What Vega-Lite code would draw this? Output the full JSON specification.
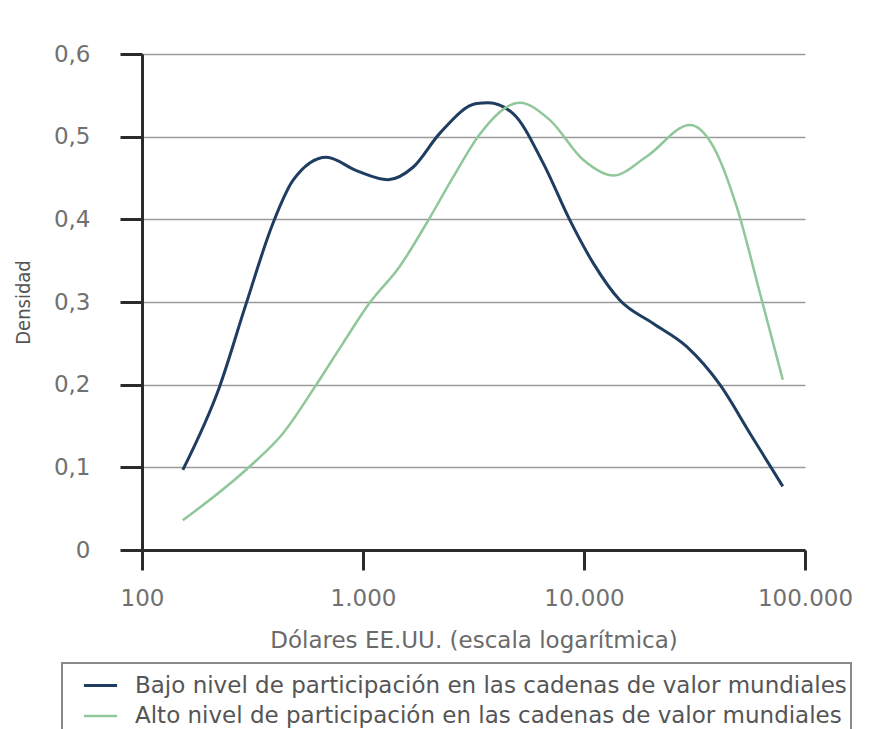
{
  "$schema": "https://vega.github.io/schema/vega-lite/v6.json",
  "autosize": "none",
  "width": 663,
  "height": 496,
  "padding": {"left": 142, "top": 54, "right": 72, "bottom": 179},
  "background": "white",
  "config": {
    "locale": {"number": {"decimal": ",", "thousands": ".", "grouping": [3], "currency": ["", " €"]}},
    "view": {"stroke": null},
    "font": "DejaVu Sans"
  },
  "data": {
    "values": [
      {"serie": "Bajo nivel de participación en las cadenas de valor mundiales", "x": 153, "y": 0.097},
      {"serie": "Bajo nivel de participación en las cadenas de valor mundiales", "x": 224, "y": 0.197},
      {"serie": "Bajo nivel de participación en las cadenas de valor mundiales", "x": 296, "y": 0.298},
      {"serie": "Bajo nivel de participación en las cadenas de valor mundiales", "x": 391, "y": 0.395},
      {"serie": "Bajo nivel de participación en las cadenas de valor mundiales", "x": 482, "y": 0.447},
      {"serie": "Bajo nivel de participación en las cadenas de valor mundiales", "x": 683, "y": 0.475},
      {"serie": "Bajo nivel de participación en las cadenas de valor mundiales", "x": 933, "y": 0.459},
      {"serie": "Bajo nivel de participación en las cadenas de valor mundiales", "x": 1298, "y": 0.448},
      {"serie": "Bajo nivel de participación en las cadenas de valor mundiales", "x": 1684, "y": 0.463},
      {"serie": "Bajo nivel de participación en las cadenas de valor mundiales", "x": 2225, "y": 0.504},
      {"serie": "Bajo nivel de participación en las cadenas de valor mundiales", "x": 3263, "y": 0.540},
      {"serie": "Bajo nivel de participación en las cadenas de valor mundiales", "x": 3683, "y": 0.541},
      {"serie": "Bajo nivel de participación en las cadenas de valor mundiales", "x": 4778, "y": 0.528},
      {"serie": "Bajo nivel de participación en las cadenas de valor mundiales", "x": 6535, "y": 0.468},
      {"serie": "Bajo nivel de participación en las cadenas de valor mundiales", "x": 8630, "y": 0.399},
      {"serie": "Bajo nivel de participación en las cadenas de valor mundiales", "x": 11010, "y": 0.347},
      {"serie": "Bajo nivel de participación en las cadenas de valor mundiales", "x": 14540, "y": 0.302},
      {"serie": "Bajo nivel de participación en las cadenas de valor mundiales", "x": 20570, "y": 0.274},
      {"serie": "Bajo nivel de participación en las cadenas de valor mundiales", "x": 29170, "y": 0.246},
      {"serie": "Bajo nivel de participación en las cadenas de valor mundiales", "x": 41220, "y": 0.200},
      {"serie": "Bajo nivel de participación en las cadenas de valor mundiales", "x": 56390, "y": 0.141},
      {"serie": "Bajo nivel de participación en las cadenas de valor mundiales", "x": 79330, "y": 0.077},
      {"serie": "Alto nivel de participación en las cadenas de valor mundiales", "x": 153, "y": 0.036},
      {"serie": "Alto nivel de participación en las cadenas de valor mundiales", "x": 307, "y": 0.101},
      {"serie": "Alto nivel de participación en las cadenas de valor mundiales", "x": 434, "y": 0.141},
      {"serie": "Alto nivel de participación en las cadenas de valor mundiales", "x": 615, "y": 0.200},
      {"serie": "Alto nivel de participación en las cadenas de valor mundiales", "x": 811, "y": 0.250},
      {"serie": "Alto nivel de participación en las cadenas de valor mundiales", "x": 1072, "y": 0.299},
      {"serie": "Alto nivel de participación en las cadenas de valor mundiales", "x": 1466, "y": 0.343},
      {"serie": "Alto nivel de participación en las cadenas de valor mundiales", "x": 1937, "y": 0.395},
      {"serie": "Alto nivel de participación en las cadenas de valor mundiales", "x": 2557, "y": 0.451},
      {"serie": "Alto nivel de participación en las cadenas de valor mundiales", "x": 3377, "y": 0.503},
      {"serie": "Alto nivel de participación en las cadenas de valor mundiales", "x": 5126, "y": 0.541},
      {"serie": "Alto nivel de participación en las cadenas de valor mundiales", "x": 7014, "y": 0.520},
      {"serie": "Alto nivel de participación en las cadenas de valor mundiales", "x": 9912, "y": 0.472},
      {"serie": "Alto nivel de participación en las cadenas de valor mundiales", "x": 13560, "y": 0.453},
      {"serie": "Alto nivel de participación en las cadenas de valor mundiales", "x": 19220, "y": 0.476},
      {"serie": "Alto nivel de participación en las cadenas de valor mundiales", "x": 30180, "y": 0.514},
      {"serie": "Alto nivel de participación en las cadenas de valor mundiales", "x": 38460, "y": 0.488},
      {"serie": "Alto nivel de participación en las cadenas de valor mundiales", "x": 49110, "y": 0.415},
      {"serie": "Alto nivel de participación en las cadenas de valor mundiales", "x": 62640, "y": 0.310},
      {"serie": "Alto nivel de participación en las cadenas de valor mundiales", "x": 79330, "y": 0.206}
    ]
  },
  "mark": {"type": "line", "interpolate": "monotone", "clip": false},
  "encoding": {
    "x": {
      "field": "x",
      "type": "quantitative",
      "scale": {"type": "log", "domain": [100, 100000], "nice": false},
      "axis": {
        "values": [100, 1000, 10000, 100000],
        "format": ",d",
        "title": "Dólares EE.UU. (escala logarítmica)",
        "grid": false,
        "labelFlush": false,
        "labelOverlap": false,
        "domainColor": "#2b2b2b",
        "domainWidth": 3,
        "tickColor": "#2b2b2b",
        "tickWidth": 3,
        "tickSize": 20,
        "labelFont": "DejaVu Sans",
        "labelFontSize": 23,
        "labelColor": "#707070",
        "labelPadding": 17,
        "titleFont": "DejaVu Sans",
        "titleFontSize": 23,
        "titleFontWeight": "normal",
        "titleColor": "#6a6a6a",
        "titlePadding": 19
      }
    },
    "y": {
      "field": "y",
      "type": "quantitative",
      "scale": {"domain": [0, 0.6], "nice": false},
      "axis": {
        "values": [0, 0.1, 0.2, 0.3, 0.4, 0.5, 0.6],
        "format": ".1~f",
        "title": "Densidad",
        "grid": true,
        "labelFlush": false,
        "gridColor": "#9a9a9a",
        "gridWidth": 1.5,
        "domainColor": "#2b2b2b",
        "domainWidth": 3,
        "tickColor": "#2b2b2b",
        "tickWidth": 3,
        "tickSize": 22,
        "labelFont": "DejaVu Sans",
        "labelFontSize": 23,
        "labelColor": "#707070",
        "labelPadding": 30,
        "titleFont": "DejaVu Sans Condensed, Liberation Sans",
        "titleFontSize": 20,
        "titleFontWeight": "normal",
        "titleColor": "#555555",
        "titlePadding": 20
      }
    },
    "color": {
      "field": "serie",
      "type": "nominal",
      "sort": null,
      "scale": {
        "domain": ["Bajo nivel de participación en las cadenas de valor mundiales", "Alto nivel de participación en las cadenas de valor mundiales"],
        "range": ["#1f3c61", "#8fc79b"]
      },
      "legend": {
        "orient": "none",
        "legendX": -80,
        "legendY": 609,
        "direction": "vertical",
        "title": null,
        "symbolType": "stroke",
        "symbolSize": 1100,
        "symbolStrokeWidth": 3,
        "symbolOffset": 16,
        "labelOffset": 16,
        "labelFont": "DejaVu Sans",
        "labelFontSize": 23,
        "labelColor": "#555555",
        "labelLimit": 900,
        "rowPadding": -6,
        "padding": 4,
        "strokeColor": "#8a8a8a",
        "encode": {"legend": {"update": {"strokeWidth": {"value": 2}}}}
      }
    },
    "strokeWidth": {
      "field": "serie",
      "type": "nominal",
      "scale": {
        "domain": ["Bajo nivel de participación en las cadenas de valor mundiales", "Alto nivel de participación en las cadenas de valor mundiales"],
        "range": [3, 2.5]
      },
      "legend": null
    }
  }
}
